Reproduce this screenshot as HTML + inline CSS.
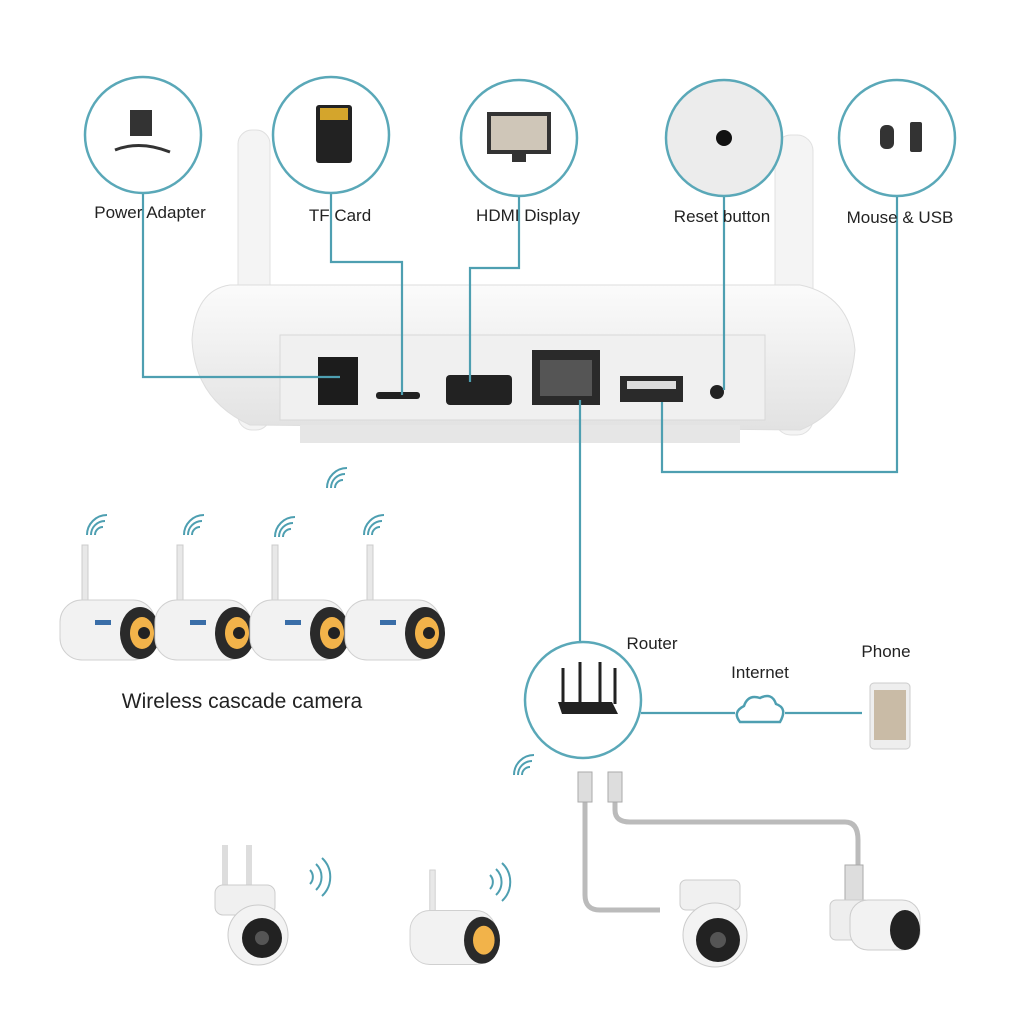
<!DOCTYPE html>
<html><head><meta charset="utf-8"><style>
body{margin:0;width:1024px;height:1024px;background:#fff;overflow:hidden;font-family:"Liberation Sans",sans-serif;}
svg{position:absolute;left:0;top:0}
</style></head><body>
<svg width="1024" height="1024" viewBox="0 0 1024 1024">
<defs>
<linearGradient id="wg" x1="0" y1="0" x2="0" y2="1"><stop offset="0" stop-color="#fbfbfb"/><stop offset="1" stop-color="#e2e2e2"/></linearGradient>
<g id="bcam">
 <rect x="22" y="0" width="6" height="60" fill="#e8e8e8" stroke="#ccc"/>
 <rect x="0" y="55" width="95" height="60" rx="22" fill="#f2f2f2" stroke="#d0d0d0"/>
 <ellipse cx="80" cy="88" rx="20" ry="26" fill="#2a2a2a"/>
 <ellipse cx="82" cy="88" rx="12" ry="16" fill="#f2b34a"/>
 <circle cx="84" cy="88" r="6" fill="#222"/>
 <rect x="35" y="75" width="16" height="5" fill="#3a6ea8"/>
</g>
</defs>
<rect x="238" y="130" width="32" height="300" rx="14" fill="#f4f4f4" stroke="#e0e0e0"/>
<rect x="775" y="135" width="38" height="300" rx="16" fill="#f4f4f4" stroke="#e0e0e0"/>
<path d="M230 285 Q195 290 192 340 Q195 400 250 425 L800 430 Q850 410 855 350 Q850 295 800 285 Z" fill="url(#wg)" stroke="#ddd"/>
<rect x="280" y="335" width="485" height="85" fill="#f0f0f0" stroke="#d8d8d8"/>
<rect x="300" y="425" width="440" height="18" fill="#e6e6e6"/>
<rect x="318" y="357" width="40" height="48" fill="#1c1c1c"/>
<rect x="376" y="392" width="44" height="7" rx="3" fill="#222"/>
<rect x="446" y="375" width="66" height="30" rx="4" fill="#222"/>
<rect x="532" y="350" width="68" height="55" fill="#2a2a2a"/>
<rect x="540" y="360" width="52" height="36" fill="#555"/>
<rect x="620" y="376" width="63" height="26" fill="#2a2a2a"/>
<rect x="627" y="381" width="49" height="8" fill="#ddd"/>
<circle cx="717" cy="392" r="7" fill="#222"/>
<g stroke="#4e9fb1" stroke-width="2.2" fill="none">
<path d="M143 193 V377 H340"/>
<path d="M331 193 V262 H402 V395"/>
<path d="M519 196 V268 H470 V382"/>
<path d="M724 196 V390"/>
<path d="M897 196 V472 H662 V402"/>
<path d="M580 400 V642"/>
<path d="M641 713 H735 M785 713 H862"/>
</g>
<g fill="#fff" stroke="#5aa8b8" stroke-width="2.5">
<circle cx="143" cy="135" r="58"/><circle cx="331" cy="135" r="58"/><circle cx="519" cy="138" r="58"/>
<circle cx="897" cy="138" r="58"/>
</g>
<circle cx="724" cy="138" r="58" fill="#ececec" stroke="#5aa8b8" stroke-width="2.5"/>
<circle cx="724" cy="138" r="8" fill="#111"/>
<rect x="130" y="110" width="22" height="26" fill="#333"/><path d="M115 150 Q140 140 170 152" stroke="#333" stroke-width="3" fill="none"/>
<rect x="316" y="105" width="36" height="58" rx="3" fill="#222"/><rect x="320" y="108" width="28" height="12" fill="#d4a52c"/>
<rect x="487" y="112" width="64" height="42" fill="#333"/><rect x="491" y="116" width="56" height="34" fill="#cfc6b8"/><rect x="512" y="154" width="14" height="8" fill="#333"/>
<rect x="880" y="125" width="14" height="24" rx="6" fill="#333"/><rect x="910" y="122" width="12" height="30" rx="2" fill="#333"/>
<g font-size="17" fill="#222" text-anchor="middle">
<text x="150" y="218">Power Adapter</text><text x="340" y="221">TF Card</text><text x="528" y="221">HDMI Display</text>
<text x="722" y="222">Reset button</text><text x="900" y="223">Mouse &amp; USB</text>
<text x="652" y="649">Router</text><text x="760" y="678">Internet</text><text x="886" y="657">Phone</text>
</g>
<text x="242" y="708" font-size="21" fill="#222" text-anchor="middle">Wireless cascade camera</text>
<circle cx="583" cy="700" r="58" fill="#fff" stroke="#5aa8b8" stroke-width="2.5"/>
<polygon points="558,702 612,702 618,714 562,714" fill="#222"/>
<g stroke="#222" stroke-width="3"><path d="M563 668 V704 M580 662 V704 M600 662 V704 M615 668 V704"/></g>
<path d="M740 722 Q732 712 744 706 Q748 694 760 698 Q772 692 776 704 Q788 708 780 722 Z" fill="#fff" stroke="#4e9fb1" stroke-width="2.5"/>
<rect x="870" y="683" width="40" height="66" rx="4" fill="#eee" stroke="#ccc"/><rect x="874" y="690" width="32" height="50" fill="#c9bba6"/>
<g stroke="#4e9fb1" stroke-width="2" fill="none">
<path d="M335 488 a8 8 0 0 1 8 -8 M331 488 a14 14 0 0 1 14 -14 M327 488 a20 20 0 0 1 20 -20"/>
<path d="M95 535 a8 8 0 0 1 8 -8 M91 535 a14 14 0 0 1 14 -14 M87 535 a20 20 0 0 1 20 -20"/>
<path d="M192 535 a8 8 0 0 1 8 -8 M188 535 a14 14 0 0 1 14 -14 M184 535 a20 20 0 0 1 20 -20"/>
<path d="M283 537 a8 8 0 0 1 8 -8 M279 537 a14 14 0 0 1 14 -14 M275 537 a20 20 0 0 1 20 -20"/>
<path d="M372 535 a8 8 0 0 1 8 -8 M368 535 a14 14 0 0 1 14 -14 M364 535 a20 20 0 0 1 20 -20"/>
<path d="M522 775 a8 8 0 0 1 8 -8 M518 775 a14 14 0 0 1 14 -14 M514 775 a20 20 0 0 1 20 -20"/>
<path d="M310 870 a10 10 0 0 1 0 14 M316 864 a18 18 0 0 1 0 26 M322 858 a26 26 0 0 1 0 38"/>
<path d="M490 875 a10 10 0 0 1 0 14 M496 869 a18 18 0 0 1 0 26 M502 863 a26 26 0 0 1 0 38"/>
</g>
<use href="#bcam" x="60" y="545"/><use href="#bcam" x="155" y="545"/><use href="#bcam" x="250" y="545"/><use href="#bcam" x="345" y="545"/>
<g stroke="#bbb" stroke-width="5" fill="none">
<path d="M585 780 V895 Q585 910 600 910 H660"/>
<path d="M615 780 V810 Q615 822 630 822 H845 Q858 822 858 840 V870"/>
</g>
<rect x="578" y="772" width="14" height="30" fill="#ddd" stroke="#aaa"/><rect x="608" y="772" width="14" height="30" fill="#ddd" stroke="#aaa"/>
<g>
<rect x="222" y="845" width="6" height="50" fill="#ddd"/><rect x="246" y="845" width="6" height="50" fill="#ddd"/>
<rect x="215" y="885" width="60" height="30" rx="8" fill="#f0f0f0" stroke="#ccc"/>
<circle cx="258" cy="935" r="30" fill="#f3f3f3" stroke="#ccc"/><circle cx="262" cy="938" r="20" fill="#222"/><circle cx="262" cy="938" r="7" fill="#555"/>
</g>
<g transform="translate(410,870) scale(0.9)">
<rect x="22" y="0" width="6" height="60" fill="#e8e8e8" stroke="#ccc"/>
<rect x="0" y="45" width="95" height="60" rx="22" fill="#f2f2f2" stroke="#d0d0d0"/>
<ellipse cx="80" cy="78" rx="20" ry="26" fill="#2a2a2a"/><ellipse cx="82" cy="78" rx="12" ry="16" fill="#f2b34a"/>
</g>
<g>
<rect x="680" y="880" width="60" height="30" rx="6" fill="#f0f0f0" stroke="#ccc"/>
<circle cx="715" cy="935" r="32" fill="#f3f3f3" stroke="#ccc"/><circle cx="718" cy="940" r="22" fill="#222"/><circle cx="718" cy="940" r="8" fill="#555"/>
</g>
<g>
<rect x="845" y="865" width="18" height="40" fill="#ddd" stroke="#aaa"/>
<rect x="830" y="900" width="40" height="40" rx="6" fill="#eee" stroke="#ccc"/>
<rect x="850" y="900" width="70" height="50" rx="18" fill="#f2f2f2" stroke="#ccc"/>
<ellipse cx="905" cy="930" rx="15" ry="20" fill="#222"/>
</g>
</svg>
</body></html>
